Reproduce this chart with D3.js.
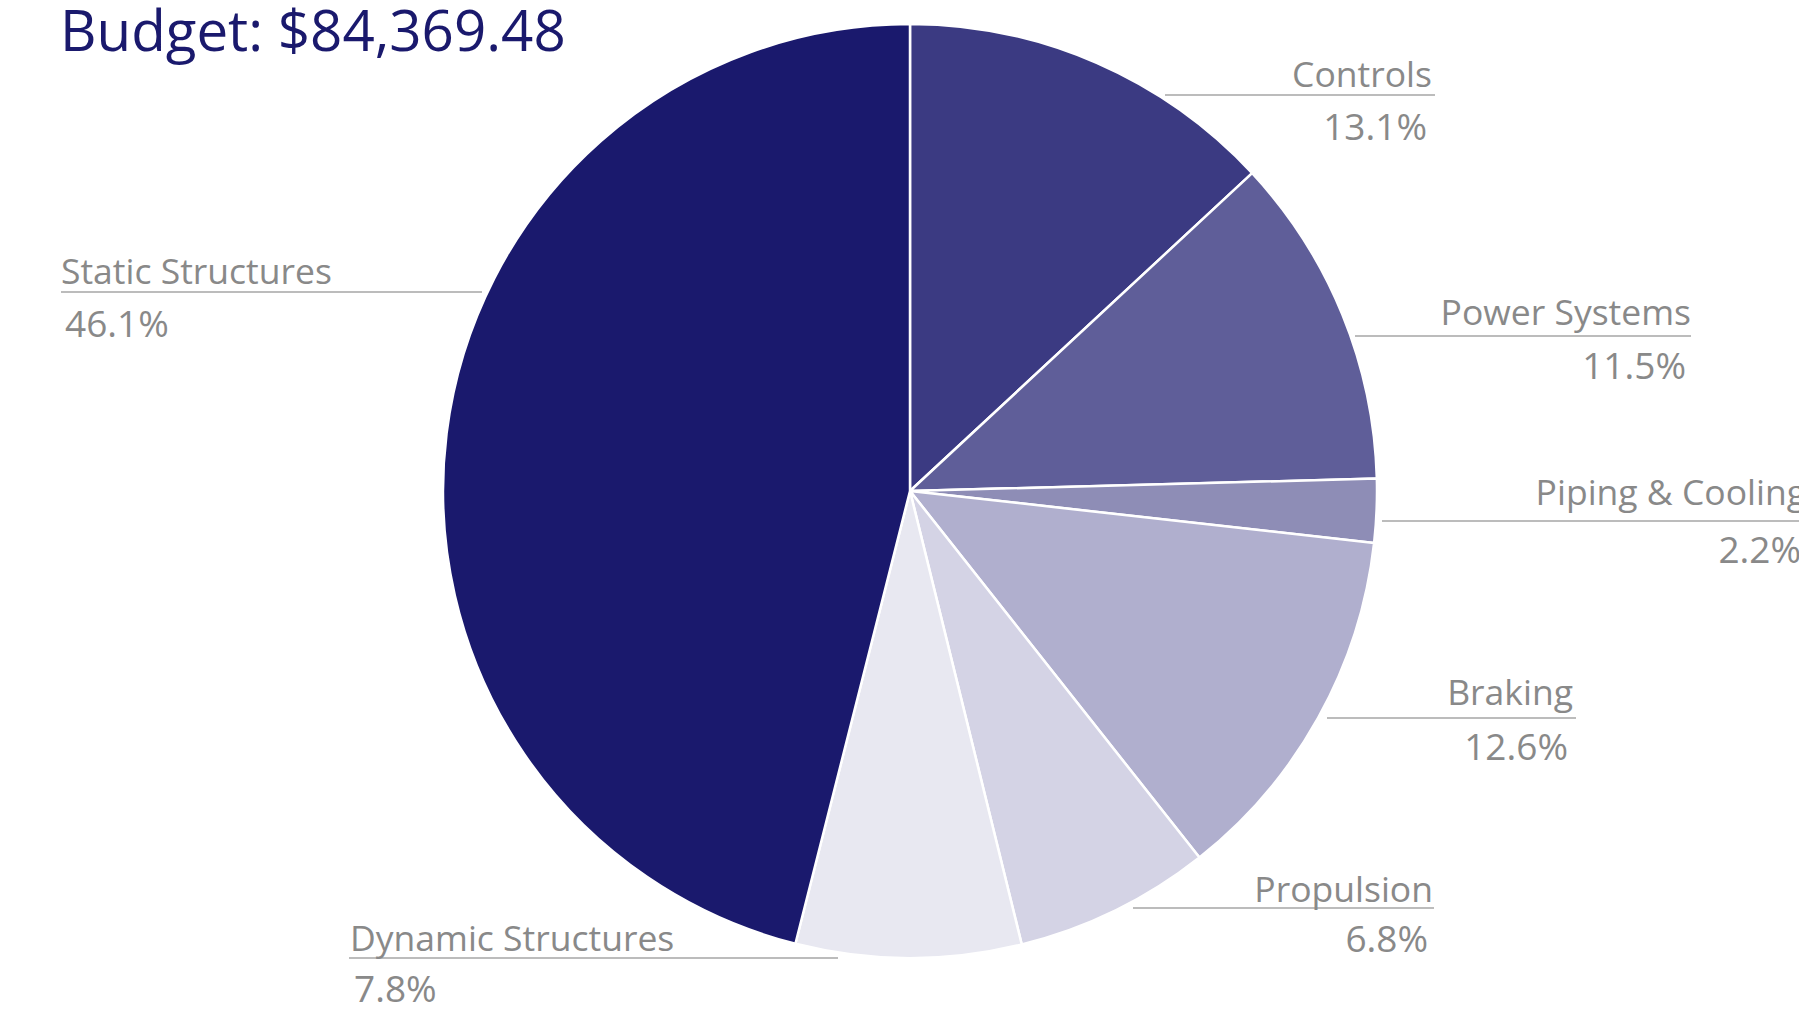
<!DOCTYPE html>
<html>
<head>
<meta charset="utf-8">
<script src="https://cdn.jsdelivr.net/npm/d3@7"></script>
<style>
  html, body { margin: 0; padding: 0; background: #fff; }
  svg { display: block; }
</style>
</head>
<body>
<svg id="chart"></svg>
<script>
const width = 1799;
const height = 1011;

// data
const budgetTitle = "Budget: $84,369.48";
const categories = ["Controls", "Power Systems", "Piping & Cooling", "Braking", "Propulsion", "Dynamic Structures", "Static Structures"];
const shares = [13.1, 11.5, 2.2, 12.6, 6.8, 7.8, 46.1];
const sliceColors = ["#3b3a82", "#5f5e99", "#8e8db6", "#b0afce", "#d4d3e5", "#e8e8f1", "#1a196d"];

// label layout (leader line from x1 to x2 at y, text anchored at tx)
const labelLayout = {
  "Controls":           { x1: 1165, x2: 1435, y: 95,  anchor: "end",   tx: 1432, ty: 87,  py: 140 },
  "Power Systems":      { x1: 1355, x2: 1691, y: 336, anchor: "end",   tx: 1691, ty: 325, py: 379 },
  "Piping & Cooling":   { x1: 1382, x2: 1815, y: 521, anchor: "end",   tx: 1806, ty: 505, py: 563 },
  "Braking":            { x1: 1327, x2: 1576, y: 718, anchor: "end",   tx: 1573, ty: 705, py: 760 },
  "Propulsion":         { x1: 1133, x2: 1434, y: 908, anchor: "end",   tx: 1433, ty: 902, py: 952 },
  "Dynamic Structures": { x1: 349,  x2: 838,  y: 958, anchor: "start", tx: 350,  ty: 951, py: 1002 },
  "Static Structures":  { x1: 61,   x2: 482,  y: 292, anchor: "start", tx: 61,   ty: 284, py: 337 }
};

const cx = 910, cy = 491, radius = 467;

const svg = d3.select("#chart")
    .attr("width", width)
    .attr("height", height);

const color = d3.scaleOrdinal()
    .domain(categories)
    .range(sliceColors);

const pie = d3.pie()
    .sort(null)
    .value(d => d.value);

const arc = d3.arc()
    .innerRadius(0)
    .outerRadius(radius);

const rows = categories.map((c, i) => ({ name: c, value: shares[i] }));

// slices
svg.append("g")
    .attr("transform", `translate(${cx},${cy})`)
  .selectAll("path")
  .data(pie(rows))
  .join("path")
    .attr("d", arc)
    .attr("fill", d => color(d.data.name))
    .attr("stroke", "#fff")
    .attr("stroke-width", 2.5)
    .attr("stroke-linejoin", "round");

// labels
const labels = svg.append("g")
    .attr("font-family", "'Open Sans', sans-serif")
    .attr("fill", "#898989");

rows.forEach(d => {
    const L = labelLayout[d.name];
    labels.append("line")
        .attr("x1", L.x1).attr("x2", L.x2)
        .attr("y1", L.y).attr("y2", L.y)
        .attr("stroke", "#a6a6a6")
        .attr("stroke-width", 1.6);
    labels.append("text")
        .attr("x", L.tx).attr("y", L.ty)
        .attr("font-size", 35.5)
        .attr("text-anchor", L.anchor)
        .text(d.name);
    labels.append("text")
        .attr("x", L.anchor === "end" ? L.tx - 5 : L.tx + 4).attr("y", L.py)
        .attr("font-size", 37)
        .attr("text-anchor", L.anchor)
        .text(d.value.toFixed(1) + "%");
});

// title
svg.append("text")
    .attr("x", 60)
    .attr("y", 51)
    .attr("font-family", "'Open Sans', sans-serif")
    .attr("font-size", 56.5)
    .attr("fill", "#1a196d")
    .text(budgetTitle);
</script>
</body>
</html>
